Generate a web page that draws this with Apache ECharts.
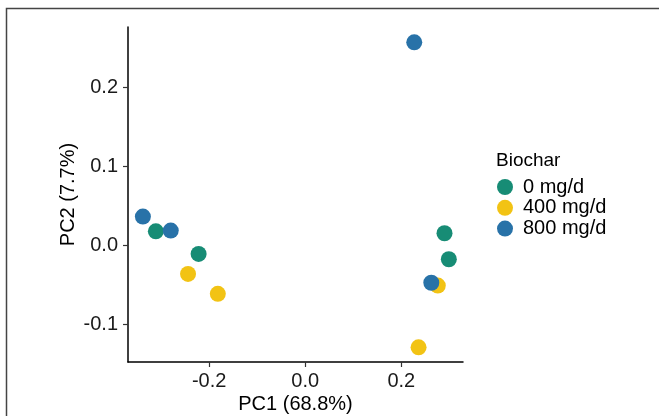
<!DOCTYPE html>
<html>
<head>
<meta charset="utf-8">
<script src="https://cdn.jsdelivr.net/npm/echarts@6/dist/echarts.min.js"></script>
<style>html,body{margin:0;padding:0;background:#fff}#c{width:659px;height:416px}</style>
</head>
<body>
<div id="c"></div>
<script>
var groups = ['0 mg/d', '400 mg/d', '800 mg/d'];
var colors = ['#178C75', '#F2C314', '#2872A8'];
var pc1_0 = [-0.311, -0.222, 0.290, 0.299];
var pc2_0 = [0.018, -0.0105, 0.0156, -0.0173];
var pc1_400 = [-0.244, -0.182, 0.276, 0.236];
var pc2_400 = [-0.0358, -0.061, -0.0506, -0.1287];
var pc1_800 = [0.227, -0.338, -0.280, 0.2625];
var pc2_800 = [0.257, 0.0367, 0.019, -0.047];
var xTicks = [-0.2, 0.0, 0.2];
var yTicks = [-0.1, 0.0, 0.1, 0.2];

function pairs(xs, ys) { return xs.map(function (v, i) { return [v, ys[i]]; }); }
var seriesData = [pairs(pc1_0, pc2_0), pairs(pc1_400, pc2_400), pairs(pc1_800, pc2_800)];
var font = 'Liberation Sans, Arial, sans-serif';

var chart = echarts.init(document.getElementById('c'));
chart.setOption({
  animation: false,
  textStyle: { fontFamily: font },
  grid: { left: 128, top: 27, right: 196, bottom: 54, containLabel: false, outerBoundsMode: 'none' },
  graphic: [
    { type: 'rect', shape: { x: 6.5, y: 8.5, width: 700, height: 500 }, style: { fill: 'none', stroke: '#444', lineWidth: 1.5 }, silent: true },
    { type: 'text', left: 496, top: 151, style: { text: 'Biochar', fontSize: 19, fill: '#000', fontFamily: font } }
  ],
  legend: {
    orient: 'vertical', left: 497, top: 177, padding: 0, itemWidth: 16, itemHeight: 16, itemGap: 0.8,
    icon: 'circle', data: groups,
    textStyle: { fontSize: 20, lineHeight: 20, color: '#000', fontFamily: font, padding: [0, 0, 0, 5] }
  },
  xAxis: {
    type: 'value', min: -0.369, max: 0.3285,
    name: 'PC1 (68.8%)', nameLocation: 'middle', nameGap: 32, nameMoveOverlap: false,
    nameTextStyle: { fontSize: 20, color: '#000' },
    axisLine: { onZero: false, lineStyle: { color: '#000', width: 1.5 } },
    axisTick: { show: true, length: 5, lineStyle: { color: '#333', width: 1.2 }, customValues: xTicks },
    axisLabel: { fontSize: 20, color: '#1a1a1a', margin: 9, customValues: xTicks, formatter: function (v) { return v.toFixed(1); } },
    splitLine: { show: false }
  },
  yAxis: {
    type: 'value', min: -0.1472, max: 0.2764,
    name: 'PC2 (7.7%)', nameLocation: 'middle', nameGap: 50, nameMoveOverlap: false,
    nameTextStyle: { fontSize: 20, color: '#000' },
    axisLine: { show: true, onZero: false, lineStyle: { color: '#000', width: 1.5 } },
    axisTick: { show: true, length: 5, lineStyle: { color: '#333', width: 1.2 }, customValues: yTicks },
    axisLabel: { fontSize: 20, color: '#1a1a1a', margin: 10, customValues: yTicks, formatter: function (v) { return v.toFixed(1); } },
    splitLine: { show: false }
  },
  series: groups.map(function (g, i) {
    return { name: g, type: 'scatter', symbol: 'circle', symbolSize: 16, data: seriesData[i], itemStyle: { color: colors[i], opacity: 1 } };
  })
});
</script>
</body>
</html>
